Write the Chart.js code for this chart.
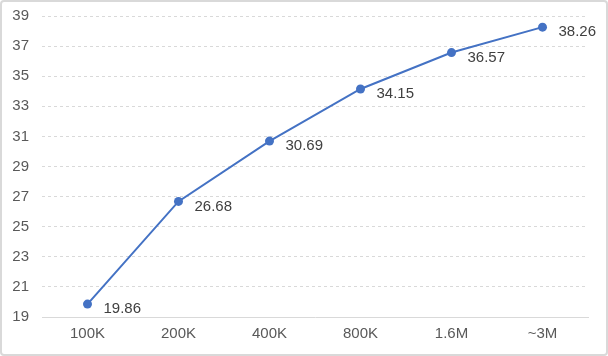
<!DOCTYPE html>
<html>
<head>
<meta charset="utf-8">
<script src="https://cdn.jsdelivr.net/npm/chart.js@4/dist/chart.umd.min.js"></script>
<style>
  html, body { margin: 0; padding: 0; background: #fff; }
  #wrap { position: relative; width: 608px; height: 356px; }
  #frame { position: absolute; left: 0; top: 0; width: 608px; height: 356px; box-sizing: border-box;
           border: 2px solid #d9d9d9; border-radius: 4px; pointer-events: none; }
</style>
</head>
<body>
<div id="wrap">
  <canvas id="chart" width="608" height="356"></canvas>
  <div id="frame"></div>
</div>
<script>
// data
const categories = ['100K', '200K', '400K', '800K', '1.6M', '~3M'];
const values = [19.86, 26.68, 30.69, 34.15, 36.57, 38.26];
const yMin = 19, yMax = 39, yStep = 2;

// simple value labels to the right of each point
const valueLabels = {
    id: 'valueLabels',
    afterDatasetsDraw(chart) {
        const ctx = chart.ctx;
        const meta = chart.getDatasetMeta(0);
        ctx.save();
        ctx.font = '15px "Liberation Sans", Arial, sans-serif';
        ctx.fillStyle = '#404040';
        ctx.textAlign = 'left';
        ctx.textBaseline = 'middle';
        meta.data.forEach(function(pt, i) {
            ctx.fillText(values[i].toFixed(2), pt.x + 16, pt.y + 5);
        });
        ctx.restore();
    }
};

Chart.defaults.font.family = '"Liberation Sans", Arial, sans-serif';
Chart.defaults.font.size = 15;
Chart.defaults.color = '#595959';

new Chart(document.getElementById('chart').getContext('2d'), {
    type: 'line',
    data: {
        labels: categories,
        datasets: [{
            data: values,
            borderColor: '#4472C4',
            backgroundColor: '#4472C4',
            borderWidth: 2,
            pointRadius: 4.5,
            pointBorderWidth: 0,
            tension: 0
        }]
    },
    options: {
        responsive: false,
        animation: false,
        layout: { padding: { top: 16, right: 20, left: 0, bottom: 0 } },
        plugins: {
            legend: { display: false },
            tooltip: { enabled: false }
        },
        scales: {
            x: {
                offset: true,
                grid: { display: false, drawTicks: false },
                border: { display: true, color: '#d9d9d9', width: 1 },
                ticks: { padding: 8, color: '#595959' },
                afterFit(scale) {
                    scale.height = 39;
                    scale.paddingLeft = 0;
                    scale.paddingRight = 0;
                }
            },
            y: {
                min: yMin,
                max: yMax,
                ticks: { stepSize: yStep, padding: 13, color: '#595959' },
                grid: { color: '#d9d9d9', drawTicks: false },
                border: { display: false, dash: [3, 3] },
                afterFit(scale) {
                    scale.width = 42;
                    scale.paddingTop = 0;
                    scale.paddingBottom = 0;
                }
            }
        }
    },
    plugins: [valueLabels]
});
</script>
</body>
</html>
